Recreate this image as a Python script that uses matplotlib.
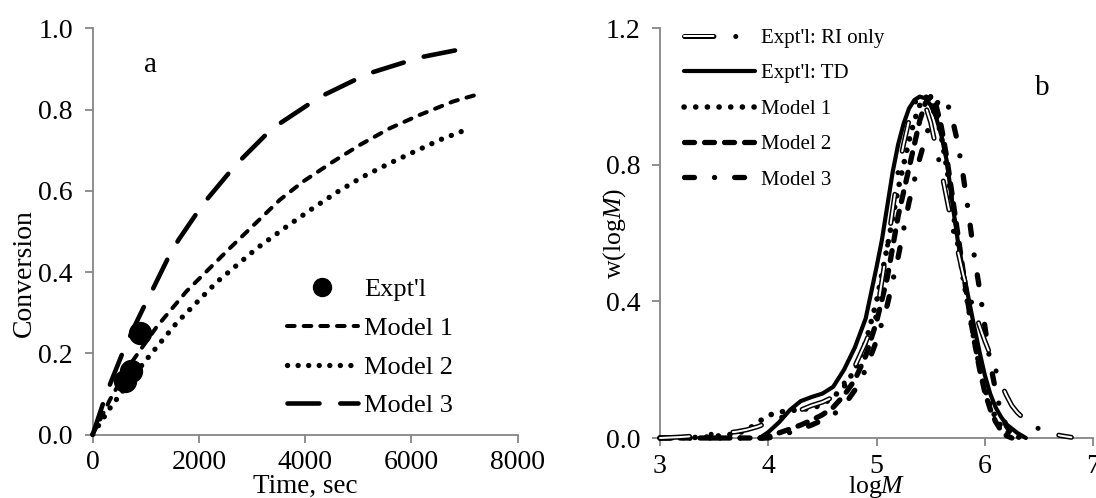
import matplotlib
matplotlib.use('Agg')
import matplotlib.pyplot as plt
from matplotlib.legend_handler import HandlerTuple

plt.rcParams['font.family'] = ['Liberation Serif', 'DejaVu Serif']
plt.rcParams['mathtext.fontset'] = 'custom'
plt.rcParams['mathtext.rm'] = 'Liberation Serif'
plt.rcParams['mathtext.it'] = 'Liberation Serif:italic'
plt.rcParams['lines.scale_dashes'] = False

# ---------------- Panel a data: conversion vs time ----------------
t_exp = [890, 721, 608]
conv_exp = [0.25, 0.156, 0.131]

t_m1 = [0, 326, 702, 1204, 1769, 2584, 3525, 3964, 4528, 5031, 5595, 6160, 6787, 7214]
conv_m1 = [0, 0.086, 0.172, 0.265, 0.353, 0.459, 0.578, 0.623, 0.672, 0.713, 0.754, 0.787, 0.820, 0.836]

t_m2 = [0, 326, 952, 1581, 2334, 3086, 3651, 4122, 4592, 5062, 5563, 6066, 6568, 7101]
conv_m2 = [0, 0.065, 0.175, 0.275, 0.375, 0.458, 0.512, 0.555, 0.596, 0.633, 0.666, 0.697, 0.727, 0.754]

t_m3 = [0, 230, 330, 575, 800, 985, 1110, 1420, 1610, 1960, 2145, 2585, 2770, 3275,
        3525, 4090, 4340, 4970, 5250, 5910, 6220, 6880]
conv_m3 = [0, 0.09, 0.125, 0.205, 0.27, 0.32, 0.352, 0.435, 0.478, 0.545, 0.578, 0.647, 0.674, 0.74,
           0.766, 0.815, 0.835, 0.875, 0.891, 0.918, 0.93, 0.947]

# ---------------- Panel b data: MWD ----------------
logm_ri = [3.0, 3.2, 3.4, 3.5, 3.6, 3.7, 3.8, 3.9, 4.0, 4.1, 4.2, 4.3, 4.4, 4.5, 4.6, 4.7, 4.8, 4.9,
           5.0, 5.1, 5.2, 5.25, 5.3, 5.35, 5.4, 5.45, 5.5, 5.55, 5.6, 5.65, 5.7, 5.75, 5.8, 5.85,
           5.9, 5.95, 6.0, 6.05, 6.1, 6.15, 6.2, 6.25, 6.3, 6.4, 6.5, 6.6, 6.7, 6.8]
w_ri = [0.0, 0.003, 0.008, 0.012, 0.015, 0.018, 0.024, 0.033, 0.045, 0.058, 0.07, 0.082, 0.095, 0.105,
        0.12, 0.16, 0.21, 0.28, 0.36, 0.56, 0.78, 0.86, 0.93, 0.98, 1.0, 0.975, 0.925, 0.85, 0.78,
        0.7, 0.62, 0.55, 0.48, 0.42, 0.38, 0.33, 0.285, 0.245, 0.2, 0.16, 0.125, 0.095, 0.075,
        0.045, 0.027, 0.015, 0.007, 0.002]

logm_td = [3.92, 4.0, 4.1, 4.2, 4.3, 4.4, 4.5, 4.6, 4.7, 4.8, 4.9, 5.0, 5.05, 5.1, 5.15, 5.2, 5.25,
           5.3, 5.35, 5.4, 5.45, 5.5, 5.55, 5.6, 5.65, 5.7, 5.75, 5.8, 5.85, 5.9, 5.95, 6.0, 6.05,
           6.1, 6.15, 6.2, 6.3, 6.38]
w_td = [0.0, 0.017, 0.046, 0.082, 0.108, 0.12, 0.13, 0.15, 0.2, 0.265, 0.35, 0.5, 0.58, 0.68, 0.78,
        0.86, 0.92, 0.965, 0.99, 1.0, 0.995, 0.975, 0.94, 0.885, 0.81, 0.69, 0.58, 0.49, 0.41, 0.33,
        0.255, 0.185, 0.13, 0.09, 0.062, 0.04, 0.015, 0.0]

logm_b1 = [3.0, 3.4, 3.6, 3.7, 3.8, 3.9, 4.0, 4.1, 4.2, 4.3, 4.4, 4.5, 4.6, 4.7, 4.8, 4.9, 5.0, 5.1,
           5.2, 5.3, 5.35, 5.4, 5.45, 5.5, 5.55, 5.6, 5.65, 5.7, 5.75, 5.8, 5.85, 5.9, 5.95, 6.0,
           6.05, 6.1, 6.15, 6.2, 6.3, 6.4]
w_b1 = [0.0, 0.002, 0.008, 0.013, 0.022, 0.045, 0.066, 0.076, 0.08, 0.083, 0.087, 0.098, 0.12, 0.15,
        0.2, 0.28, 0.4, 0.56, 0.73, 0.87, 0.93, 0.975, 1.0, 0.99, 0.95, 0.88, 0.79, 0.68, 0.57, 0.47,
        0.38, 0.29, 0.21, 0.145, 0.095, 0.06, 0.035, 0.018, 0.003, 0.0]

logm_b2 = [3.0, 3.95, 4.0, 4.1, 4.2, 4.3, 4.4, 4.5, 4.6, 4.7, 4.8, 4.9, 5.0, 5.1, 5.15, 5.2, 5.25,
           5.3, 5.35, 5.4, 5.45, 5.5, 5.55, 5.6, 5.65, 5.7, 5.75, 5.8, 5.85, 5.9, 5.95, 6.0, 6.05,
           6.1, 6.15, 6.2, 6.25]
w_b2 = [0.0, 0.0, 0.004, 0.015, 0.026, 0.038, 0.052, 0.068, 0.09, 0.125, 0.17, 0.24, 0.34, 0.47,
        0.56, 0.65, 0.72, 0.79, 0.86, 0.93, 0.98, 1.0, 0.975, 0.91, 0.82, 0.71, 0.6, 0.49, 0.385,
        0.29, 0.205, 0.135, 0.085, 0.048, 0.022, 0.007, 0.0]

logm_b3 = [3.0, 4.0, 4.1, 4.2, 4.3, 4.4, 4.5, 4.6, 4.7, 4.8, 4.9, 5.0, 5.1, 5.2, 5.3, 5.4, 5.5, 5.55,
           5.6, 5.65, 5.7, 5.75, 5.8, 5.85, 5.9, 5.95, 6.0, 6.05, 6.1, 6.15, 6.2, 6.25, 6.3]
w_b3 = [0.0, 0.0, 0.008, 0.016, 0.026, 0.038, 0.052, 0.068, 0.095, 0.14, 0.2, 0.285, 0.39, 0.53,
        0.69, 0.82, 0.93, 0.975, 1.0, 0.985, 0.935, 0.865, 0.77, 0.66, 0.54, 0.44, 0.33, 0.22,
        0.14, 0.075, 0.035, 0.012, 0.0]

# ---------------- Figure ----------------
W, H = 1096, 498
fig = plt.figure(figsize=(W / 100, H / 100), dpi=100)


def px_axes(l, r, t, b):
    return fig.add_axes([l / W, 1 - b / H, (r - l) / W, (b - t) / H])


axa = px_axes(92.7, 517.7, 28.3, 434.5)
axb = px_axes(660, 1093, 28.3, 438)

GRAY = '#868686'
for ax in (axa, axb):
    for s in ('top', 'right'):
        ax.spines[s].set_visible(False)
    for s in ('left', 'bottom'):
        ax.spines[s].set_color(GRAY)
        ax.spines[s].set_linewidth(1.3)
    ax.tick_params(direction='out', length=5.8, width=1.3, color=GRAY, labelsize=20,
                   labelcolor='black')
    ax.tick_params(axis='y', pad=8.5)
    ax.tick_params(axis='x', pad=5.5)

# ---- panel a ----
l_exp, = axa.plot(t_exp, conv_exp, 'o', color='black', ms=15.8, zorder=6, clip_on=False,
                  label="Expt'l")
l_m1, = axa.plot(t_m1, conv_m1, color='black', lw=2.9, dashes=(5.5, 6.5),
                 dash_capstyle='round', zorder=4, clip_on=False, label='Model 1')
l_m2, = axa.plot(t_m2, conv_m2, color='black', lw=3.8, dashes=(0.1, 7.5),
                 dash_capstyle='round', zorder=4, clip_on=False, label='Model 2')
l_m3, = axa.plot(t_m3, conv_m3, color='black', lw=3.3, dashes=(23, 15),
                 dash_capstyle='round', zorder=4, clip_on=False, label='Model 3')
axa.set_xlim(0, 8000)
axa.set_ylim(0, 1.0)
axa.set_xticks([0, 2000, 4000, 6000, 8000])
axa.set_yticks([0, 0.2, 0.4, 0.6, 0.8, 1.0])
axa.set_yticklabels(['0.0', '0.2', '0.4', '0.6', '0.8', '1.0'])
axa.set_ylabel('Conversion', fontsize=20)
axa.yaxis.set_label_coords(-0.1616, 0.397)
axa.yaxis.label.set_va('center')
axa.set_xlabel('Time, sec', fontsize=19.5)
axa.xaxis.set_label_coords(0.5, -0.144)
axa.xaxis.label.set_va('baseline')
axa.text(1079, 0.893, 'a', fontsize=21, ha='center', va='baseline')

leg_a = axa.legend([l_exp, l_m1, l_m2, l_m3], ["Expt'l", 'Model 1', 'Model 2', 'Model 3'],
                   loc='upper left', bbox_to_anchor=(286.7 / W, 1 - 278 / H),
                   bbox_transform=fig.transFigure, frameon=False, borderpad=0,
                   borderaxespad=0, handlelength=2.7, handletextpad=0.23,
                   labelspacing=0.575, fontsize=19, markerscale=0.82)

# ---- panel b ----
ri_black, = axb.plot(logm_ri, w_ri, color='black', lw=3.6, dashes=(21.2, 15.7, 0.07, 15.7),
                     dash_capstyle='round', zorder=7, clip_on=False)
ri_white, = axb.plot(logm_ri, w_ri, color='white', lw=1.44, dashes=(21.2, 31.47),
                     dash_capstyle='round', zorder=8, clip_on=False)
l_td, = axb.plot(logm_td, w_td, color='black', lw=3.0, solid_capstyle='round', zorder=5,
                 clip_on=False)
l_b1, = axb.plot(logm_b1, w_b1, color='black', lw=4.0, dashes=(0.1, 8.3),
                 dash_capstyle='round', zorder=4, clip_on=False)
l_b2, = axb.plot(logm_b2, w_b2, color='black', lw=3.8, dashes=(7.2, 7.2),
                 dash_capstyle='round', zorder=4, clip_on=False)
l_b3, = axb.plot(logm_b3, w_b3, color='black', lw=3.8, dashes=(7.2, 14.4, 0.07, 14.4),
                 dash_capstyle='round', zorder=4, clip_on=False)
axb.set_xlim(3, 7)
axb.set_ylim(0, 1.2)
axb.set_xticks([3, 4, 5, 6, 7])
axb.set_yticks([0, 0.4, 0.8, 1.2])
axb.set_yticklabels(['0.0', '0.4', '0.8', '1.2'])
axb.set_ylabel('w(log$M$)', fontsize=18.5)
axb.yaxis.set_label_coords(-0.104, 0.499)
axb.yaxis.label.set_va('center')
axb.set_xlabel('log$M$', fontsize=18.5)
axb.xaxis.set_label_coords(0.5, -0.134)
axb.xaxis.label.set_va('baseline')
axb.text(6.535, 1.005, 'b', fontsize=21, ha='center', va='baseline')

leg_b = axb.legend([(ri_black, ri_white), l_td, l_b1, l_b2, l_b3],
                   ["Expt'l: RI only", "Expt'l: TD", 'Model 1', 'Model 2', 'Model 3'],
                   handler_map={tuple: HandlerTuple(ndivide=1, pad=0)},
                   loc='upper left', bbox_to_anchor=(684 / W, 1 - 28.5 / H),
                   bbox_transform=fig.transFigure, frameon=False, borderpad=0,
                   borderaxespad=0, handlelength=3.4, handletextpad=0.29,
                   labelspacing=0.76, fontsize=15)

fig.savefig('out.png', dpi=100)
